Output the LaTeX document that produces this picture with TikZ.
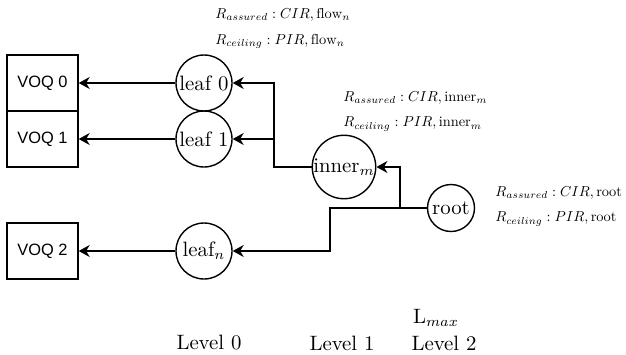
\documentclass[tikz,border=0pt]{standalone}
\usepackage{fontspec}
\usepackage{graphicx}
\newfontfamily\voqfont{Liberation Sans}
\usetikzlibrary{arrows.meta}
\newcommand{\lblsc}[1]{\scalebox{0.72}{$#1$}}
\begin{document}
\begin{tikzpicture}[x=0.5pt,y=-0.5pt,
  every node/.style={font=\fontsize{10.4}{12}\selectfont},
  voq/.style={draw,line width=0.7pt,minimum width=35.5pt,minimum height=28pt,inner sep=0pt,font=\voqfont\fontsize{8.2}{10}\selectfont},
  qnode/.style={draw,circle,line width=0.7pt,inner sep=0pt,minimum size=28pt},
  lbl/.style={anchor=west,inner sep=0pt,font=\fontsize{10}{12}\selectfont},
  lvl/.style={inner sep=0pt},
  conn/.style={line width=0.7pt},
  arr/.style={conn,-{Stealth[length=5.5pt,width=6pt,inset=1.8pt]}}]
\useasboundingbox (0,0) rectangle (626,354);
% boxes
\node[voq] (voq0) at (42.5,83) {VOQ 0};
\node[voq] (voq1) at (42.5,139) {VOQ 1};
\node[voq] (voq2) at (42.5,251) {VOQ 2};
% circles
\node[qnode] (leaf0) at (204,83) {leaf 0};
\node[qnode] (leaf1) at (204,139) {leaf 1};
\node[qnode] (leafn) at (204,251) {leaf$_n$};
\node[qnode,minimum size=29pt] (inner) at (344,167) {inner$_m$};
\node[qnode,minimum size=23.5pt] (root) at (451,208) {root};
% junctions
\coordinate (jr) at (400,208);
\coordinate (jn) at (330,208);
\coordinate (ji) at (274,167);
% connectors
\draw[arr] (leaf0.west) -- (voq0.east);
\draw[arr] (leaf1.west) -- (voq1.east);
\draw[arr] (leafn.west) -- (voq2.east);
\draw[arr] (root.west) -- (jr) |- (inner.east);
\draw[arr] (jr) -- (jn) |- (leafn.east);
\draw[arr] (inner.west) -- (ji) |- (leaf0.east);
\draw[arr] (ji) |- (leaf1.east);
% labels
\node[lbl] (fa) at (215,15) {\lblsc{R_{assured}: CIR, \mathrm{flow}_n}};
\node[lbl] (fc) at (215,41) {\lblsc{R_{ceiling}: PIR, \mathrm{flow}_n}};
\node[lbl] (ia) at (343,98) {\lblsc{R_{assured}: CIR, \mathrm{inner}_m}};
\node[lbl] (ic) at (343,124) {\lblsc{R_{ceiling}: PIR, \mathrm{inner}_m}};
\node[lbl] (ra) at (495,193) {\lblsc{R_{assured}: CIR, \mathrm{root}}};
\node[lbl] (rc) at (495,219) {\lblsc{R_{ceiling}: PIR, \mathrm{root}}};
\node[lvl] (lmax) at (436,318) {L$_{max}$};
\node[lvl] (l0) at (209,343) {Level 0};
\node[lvl] (l1) at (342,343) {Level 1};
\node[lvl] (l2) at (444,343) {Level 2};
\end{tikzpicture}
\end{document}
